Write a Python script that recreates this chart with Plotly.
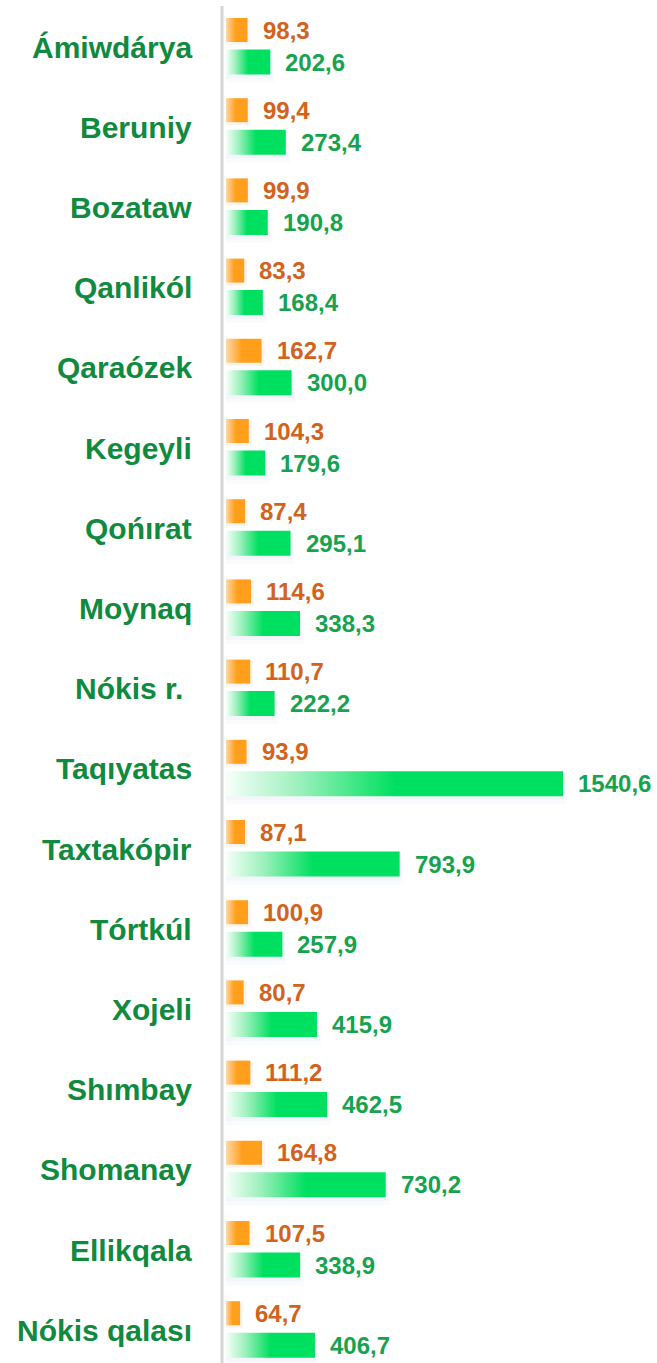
import plotly.graph_objects as go

categories = ["Ámiwdárya", "Beruniy", "Bozataw", "Qanlikól", "Qaraózek", "Kegeyli",
              "Qońırat", "Moynaq", "Nókis r. ", "Taqıyatas", "Taxtakópir", "Tórtkúl",
              "Xojeli", "Shımbay", "Shomanay", "Ellikqala", "Nókis qalası"]
orange_values = [98.3, 99.4, 99.9, 83.3, 162.7, 104.3, 87.4, 114.6, 110.7, 93.9,
                 87.1, 100.9, 80.7, 111.2, 164.8, 107.5, 64.7]
green_values = [202.6, 273.4, 190.8, 168.4, 300.0, 179.6, 295.1, 338.3, 222.2, 1540.6,
                793.9, 257.9, 415.9, 462.5, 730.2, 338.9, 406.7]

W, H = 657, 1363
X0_PX = 226.0
PX_PER_UNIT = (563 - 226) / 1540.6
Y0_PX = 46.0
PX_PER_CAT = 80.2

x_range = [-X0_PX / PX_PER_UNIT, (W - X0_PX) / PX_PER_UNIT]
y_range = [(H - Y0_PX) / PX_PER_CAT, -Y0_PX / PX_PER_CAT]

OFF = 16 / PX_PER_CAT
HALF_O = 12 / PX_PER_CAT
HALF_G = 12.5 / PX_PER_CAT

fmt = lambda v: f"{v:.1f}".replace(".", ",")

fig = go.Figure()

def rect(x0, v, yc, half):
    return [x0, v, v, x0, x0], [yc - half, yc - half, yc + half, yc + half, yc - half]

for i, (o, g) in enumerate(zip(orange_values, green_values)):
    # soft shadows
    for k, a in enumerate([0.10, 0.10]):
        d = (4 + 4 * k) / PX_PER_CAT
        xs, ys = rect(0, g + (2 + 2 * k) / PX_PER_UNIT, i + OFF + d, HALF_G)
        fig.add_trace(go.Scatter(x=xs, y=ys, fill="toself", mode="none",
                                 fillcolor=f"rgba(200,212,235,{a})", hoverinfo="skip", showlegend=False))
    xs, ys = rect(0, o + 3 / PX_PER_UNIT, i - OFF + 2 / PX_PER_CAT, HALF_O + 1 / PX_PER_CAT)
    fig.add_trace(go.Scatter(x=xs, y=ys, fill="toself", mode="none",
                             fillcolor="rgba(240,170,140,0.12)", hoverinfo="skip", showlegend=False))
    # orange bar
    xs, ys = rect(0, o, i - OFF, HALF_O)
    fig.add_trace(go.Scatter(
        x=xs, y=ys, fill="toself", mode="none", hoverinfo="skip", showlegend=False,
        fillgradient=dict(type="horizontal",
                          colorscale=[[0, "#ffd8a8"], [0.45, "#ff9f1c"], [1, "#ff9f1c"]])))
    # green bar
    xs, ys = rect(0, g, i + OFF, HALF_G)
    fig.add_trace(go.Scatter(
        x=xs, y=ys, fill="toself", mode="none", hoverinfo="skip", showlegend=False,
        fillgradient=dict(type="horizontal",
                          colorscale=[[0, "#f6fff9"], [0.22, "#9af0bb"], [0.5, "#00e060"], [1, "#00e060"]])))

annotations = []
for i, (c, o, g) in enumerate(zip(categories, orange_values, green_values)):
    annotations.append(dict(x=194 / W, xref="paper", y=i, yref="y", text=f"<b>{c}</b>", showarrow=False,
                            xanchor="right", yanchor="middle", yshift=-1,
                            font=dict(family="Liberation Sans, Arial", size=30, color="#0f8a3e")))
    annotations.append(dict(x=o, xref="x", y=i - OFF, yref="y", text=f"<b>{fmt(o)}</b>",
                            showarrow=False, xanchor="left", yanchor="middle", xshift=13,
                            font=dict(family="Liberation Sans, Arial", size=24, color="#d2621c")))
    annotations.append(dict(x=g, xref="x", y=i + OFF, yref="y", text=f"<b>{fmt(g)}</b>",
                            showarrow=False, xanchor="left", yanchor="middle", xshift=13,
                            font=dict(family="Liberation Sans, Arial", size=24, color="#16a34e")))

fig.update_layout(
    width=W, height=H, margin=dict(l=0, r=0, t=0, b=0),
    plot_bgcolor="white", paper_bgcolor="white",
    xaxis=dict(range=x_range, visible=False, fixedrange=True),
    yaxis=dict(range=y_range, visible=False, fixedrange=True),
    annotations=annotations,
    hovermode=False,
    shapes=[dict(type="line", xref="paper", yref="paper", x0=222 / W, x1=222 / W,
                 y0=0, y1=1 - 6 / H, line=dict(color="#d6d6d6", width=3))],
)

fig.write_html("out.html", config={"displayModeBar": False},
               post_script="document.body.style.margin='0';document.body.style.overflow='hidden';")
